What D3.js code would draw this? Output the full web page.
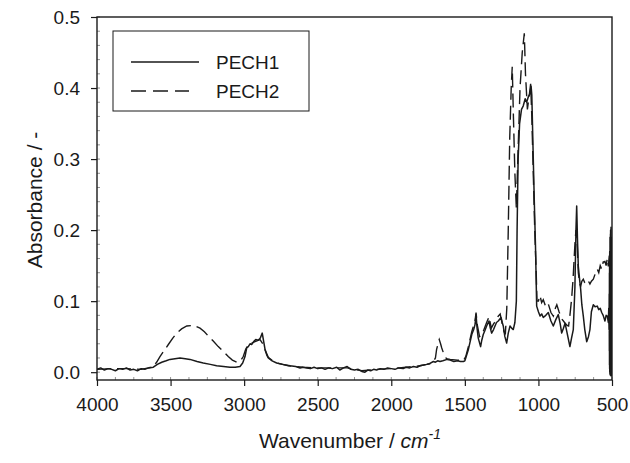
<!DOCTYPE html>
<html>
<head>
<meta charset="utf-8">
<script src="https://d3js.org/d3.v7.min.js"></script>
<style>
  body { margin: 0; background: #fff; }
  svg { display: block; font-family: "Liberation Sans", Arial, sans-serif; }
  .tick-label { font-size: 19px; fill: #1a1a1a; }
  .axis-title { font-size: 21px; fill: #1a1a1a; }
  .legend-text { font-size: 19px; fill: #1a1a1a; }
</style>
</head>
<body>
<div id="chart"></div>
<script>
"use strict";

// series: [wavenumber, absorbance]
let pech1 = [
  [4000, 0.004], [3975, 0.006], [3950, 0.003], [3925, 0.005], [3900, 0.004],
  [3875, 0.002], [3850, 0.005], [3825, 0.004], [3800, 0.006], [3775, 0.003],
  [3750, 0.004], [3725, 0.002], [3700, 0.005], [3675, 0.004], [3650, 0.006],
  [3617, 0.007], [3590, 0.011], [3560, 0.014], [3530, 0.016], [3504, 0.018],
  [3470, 0.019], [3436, 0.020], [3400, 0.019], [3368, 0.018], [3320, 0.015],
  [3278, 0.013], [3230, 0.011], [3187, 0.009], [3140, 0.008], [3096, 0.007],
  [3060, 0.007], [3028, 0.008], [3010, 0.013], [2994, 0.022], [2983, 0.034],
  [2972, 0.036], [2960, 0.040], [2949, 0.039], [2935, 0.043], [2921, 0.046],
  [2904, 0.045], [2890, 0.048], [2877, 0.055], [2868, 0.044], [2858, 0.032],
  [2846, 0.024], [2836, 0.020], [2810, 0.016], [2779, 0.013], [2740, 0.011],
  [2688, 0.009], [2650, 0.008], [2620, 0.006], [2600, 0.007], [2575, 0.006],
  [2550, 0.005], [2525, 0.007], [2500, 0.005], [2475, 0.006], [2450, 0.004],
  [2425, 0.006], [2400, 0.005], [2371, 0.007], [2350, 0.003], [2325, 0.006],
  [2300, 0.008], [2275, 0.004], [2250, 0.003], [2225, 0.004], [2200, 0.001],
  [2179, 0.000], [2160, 0.003], [2140, 0.002], [2120, 0.004], [2100, 0.003],
  [2075, 0.005], [2050, 0.004], [2025, 0.006], [2000, 0.005], [1975, 0.004],
  [1950, 0.006], [1920, 0.005], [1900, 0.007], [1875, 0.006], [1850, 0.008],
  [1825, 0.007], [1805, 0.009], [1780, 0.010], [1759, 0.011], [1740, 0.012],
  [1714, 0.015], [1700, 0.014], [1685, 0.016], [1669, 0.015], [1650, 0.016],
  [1620, 0.018], [1600, 0.017], [1575, 0.015], [1550, 0.016], [1530, 0.015],
  [1510, 0.015], [1500, 0.016], [1494, 0.020], [1476, 0.032], [1453, 0.053],
  [1440, 0.060], [1431, 0.067], [1424, 0.081], [1417, 0.062], [1409, 0.048],
  [1393, 0.036], [1385, 0.045], [1375, 0.053], [1365, 0.058], [1352, 0.065],
  [1336, 0.072], [1327, 0.062], [1318, 0.055], [1305, 0.060], [1295, 0.065],
  [1285, 0.070], [1273, 0.072], [1254, 0.077], [1246, 0.070], [1239, 0.065],
  [1228, 0.050], [1216, 0.041], [1205, 0.055], [1193, 0.065], [1182, 0.062],
  [1171, 0.060], [1160, 0.070], [1150, 0.100], [1145, 0.200], [1138, 0.300],
  [1128, 0.350], [1115, 0.370], [1103, 0.375], [1090, 0.385], [1080, 0.380],
  [1068, 0.388], [1057, 0.392], [1050, 0.403], [1045, 0.390], [1035, 0.300],
  [1028, 0.240], [1020, 0.178], [1012, 0.093], [1000, 0.085], [989, 0.079],
  [978, 0.082], [967, 0.077], [950, 0.080], [933, 0.084], [915, 0.072],
  [899, 0.065], [882, 0.074], [865, 0.081], [852, 0.068], [842, 0.055],
  [830, 0.062], [819, 0.069], [800, 0.050], [786, 0.036], [775, 0.048],
  [763, 0.060], [752, 0.120], [745, 0.200], [740, 0.234], [735, 0.190],
  [729, 0.149], [720, 0.130], [713, 0.117], [705, 0.095], [695, 0.079],
  [685, 0.060], [672, 0.043], [660, 0.050], [650, 0.060], [640, 0.085],
  [627, 0.095], [615, 0.092], [600, 0.093], [590, 0.088], [580, 0.090],
  [570, 0.084], [560, 0.080], [548, 0.072], [540, 0.080], [532, 0.079],
  [525, 0.070], [522, 0.090], [520, 0.060], [519, 0.110], [518, 0.030],
  [517.5, 0.140], [517, 0.010], [516.5, 0.150], [516, 0.005], [515.5, 0.170],
  [515, 0.000], [514.5, 0.160], [514, -0.003], [513.5, 0.190], [513, 0.002],
  [512.5, 0.175], [512, -0.004], [511.5, 0.185], [511, 0.000], [510.5, 0.195],
  [510, -0.004], [509.5, 0.200], [509, 0.003], [508.5, 0.190], [508, -0.005],
  [507.5, 0.180], [507, 0.000], [506.5, 0.204], [506, -0.005], [505.5, 0.170],
  [505, 0.004], [504.5, 0.190], [504, -0.005], [503.5, 0.160], [503, 0.002],
  [502.5, 0.150], [502, -0.004], [501.5, 0.130], [501, 0.010], [500.5, 0.110],
  [500, 0.020]
];

let pech2 = [
  [4000, 0.004], [3900, 0.005], [3800, 0.005], [3700, 0.004], [3650, 0.006],
  [3617, 0.008], [3595, 0.014], [3572, 0.022], [3545, 0.030], [3515, 0.039],
  [3485, 0.048], [3458, 0.055], [3425, 0.061], [3390, 0.065], [3345, 0.066],
  [3300, 0.062], [3270, 0.057], [3244, 0.051], [3210, 0.044], [3176, 0.036],
  [3140, 0.029], [3108, 0.022], [3080, 0.017], [3051, 0.014], [3025, 0.016],
  [3006, 0.022], [2990, 0.032], [2972, 0.039], [2950, 0.041], [2926, 0.043],
  [2892, 0.046], [2870, 0.039], [2855, 0.030], [2836, 0.021], [2800, 0.015],
  [2779, 0.013], [2700, 0.009], [2600, 0.007], [2500, 0.006], [2400, 0.006],
  [2300, 0.006], [2200, 0.002], [2100, 0.004], [2000, 0.005], [1900, 0.007],
  [1805, 0.009], [1760, 0.011], [1720, 0.013], [1700, 0.020], [1692, 0.032],
  [1680, 0.042], [1674, 0.046], [1665, 0.040], [1657, 0.034], [1642, 0.025],
  [1625, 0.019], [1600, 0.018], [1550, 0.017], [1510, 0.016], [1494, 0.022],
  [1476, 0.036], [1453, 0.057], [1431, 0.072], [1424, 0.084], [1415, 0.066],
  [1400, 0.050], [1385, 0.052], [1370, 0.060], [1352, 0.070], [1336, 0.078],
  [1320, 0.062], [1305, 0.068], [1290, 0.072], [1273, 0.079], [1260, 0.082],
  [1248, 0.070], [1235, 0.058], [1225, 0.053], [1215, 0.090], [1205, 0.200],
  [1195, 0.330], [1185, 0.400], [1178, 0.430], [1170, 0.360], [1160, 0.280],
  [1150, 0.230], [1140, 0.300], [1125, 0.400], [1110, 0.450], [1096, 0.477],
  [1088, 0.420], [1075, 0.370], [1062, 0.390], [1053, 0.406], [1045, 0.360],
  [1035, 0.280], [1025, 0.200], [1015, 0.140], [1010, 0.100], [1000, 0.100],
  [990, 0.108], [978, 0.098], [967, 0.102], [950, 0.092], [933, 0.096],
  [915, 0.084], [899, 0.079], [885, 0.090], [875, 0.095], [860, 0.085],
  [842, 0.075], [830, 0.072], [819, 0.069], [805, 0.066], [795, 0.065],
  [786, 0.080], [775, 0.102], [765, 0.130], [752, 0.180], [745, 0.200],
  [738, 0.190], [729, 0.140], [720, 0.125], [713, 0.121], [705, 0.128],
  [695, 0.131], [685, 0.126], [672, 0.124], [660, 0.128], [650, 0.124],
  [640, 0.128], [627, 0.131], [615, 0.138], [600, 0.145], [590, 0.140],
  [580, 0.150], [570, 0.145], [560, 0.155], [548, 0.156], [540, 0.150],
  [532, 0.160], [525, 0.149], [518, 0.165], [510, 0.150], [505, 0.175],
  [500, 0.150]
];

let xTicks = [4000, 3500, 3000, 2500, 2000, 1500, 1000, 500];
let yTicks = [0.0, 0.1, 0.2, 0.3, 0.4, 0.5];
let legendNames = ['PECH1', 'PECH2'];

(function () {
  let width = 630;
  let height = 463;
  let plotLeft = 97;
  let plotRight = 612;
  let plotTop = 17;
  let plotBottom = 380;
  let ink = '#1a1a1a';

  let svg = d3.select('#chart').append('svg')
    .attr('width', width)
    .attr('height', height);

  let xScale = d3.scaleLinear()
    .domain([4000, 500])
    .range([plotLeft, plotRight]);

  let yScale = d3.scaleLinear()
    .domain([-0.011, 0.5])
    .range([plotBottom, plotTop]);

  svg.append('clipPath')
    .attr('id', 'plot-clip')
    .append('rect')
    .attr('x', plotLeft)
    .attr('y', plotTop)
    .attr('width', plotRight - plotLeft)
    .attr('height', plotBottom - plotTop);

  // minor ticks, faint, inside the frame
  let xMinor = d3.range(4000, 499, -125);
  let yMinor = d3.range(0, 0.501, 0.02);

  svg.append('g')
    .selectAll('line.xminor')
    .data(xMinor)
    .enter()
    .append('line')
    .attr('x1', d => xScale(d))
    .attr('x2', d => xScale(d))
    .attr('y1', plotBottom)
    .attr('y2', plotBottom - 3)
    .style('stroke', '#777')
    .style('stroke-width', 0.8);

  svg.append('g')
    .selectAll('line.yminor')
    .data(yMinor)
    .enter()
    .append('line')
    .attr('x1', plotLeft)
    .attr('x2', plotLeft + 3)
    .attr('y1', d => yScale(d))
    .attr('y2', d => yScale(d))
    .style('stroke', '#777')
    .style('stroke-width', 0.8);

  let line = d3.line()
    .x(d => xScale(d[0]))
    .y(d => yScale(d[1]));

  let curves = svg.append('g')
    .attr('clip-path', 'url(#plot-clip)');

  curves.append('path')
    .datum(pech2)
    .attr('d', line)
    .style('fill', 'none')
    .style('stroke', ink)
    .style('stroke-width', 1.4)
    .style('stroke-dasharray', '14,6');

  curves.append('path')
    .datum(pech1)
    .attr('d', line)
    .style('fill', 'none')
    .style('stroke', ink)
    .style('stroke-width', 1.5)
    .style('stroke-linejoin', 'round');

  // frame
  svg.append('rect')
    .attr('x', plotLeft)
    .attr('y', plotTop)
    .attr('width', plotRight - plotLeft)
    .attr('height', plotBottom - plotTop)
    .style('fill', 'none')
    .style('stroke', ink)
    .style('stroke-width', 1.4);

  let xAxis = d3.axisBottom(xScale)
    .tickValues(xTicks)
    .tickSize(6)
    .tickPadding(12)
    .tickFormat(d3.format('d'));

  let yAxis = d3.axisLeft(yScale)
    .tickValues(yTicks)
    .tickSize(6)
    .tickPadding(11)
    .tickFormat(d3.format('.1f'));

  let gx = svg.append('g')
    .attr('transform', 'translate(0,' + plotBottom + ')')
    .call(xAxis);

  let gy = svg.append('g')
    .attr('transform', 'translate(' + plotLeft + ',0)')
    .call(yAxis);

  [gx, gy].forEach(function (g) {
    g.select('.domain').remove();
    g.selectAll('line').style('stroke', ink).style('stroke-width', 1.2);
    g.selectAll('text')
      .attr('class', 'tick-label')
      .style('font-family', '"Liberation Sans", Arial, sans-serif');
  });

  // axis titles
  let xTitle = svg.append('text')
    .attr('class', 'axis-title')
    .attr('x', 350)
    .attr('y', 448)
    .attr('text-anchor', 'middle');
  xTitle.append('tspan').text('Wavenumber / ');
  xTitle.append('tspan').style('font-style', 'italic').text('cm');
  xTitle.append('tspan')
    .style('font-style', 'italic')
    .style('font-size', '14px')
    .attr('dy', -9)
    .text('-1');

  svg.append('text')
    .attr('class', 'axis-title')
    .attr('transform', 'translate(42,' + 200 + ') rotate(-90)')
    .attr('text-anchor', 'middle')
    .text('Absorbance / -');

  // legend
  let legend = svg.append('g');
  legend.append('rect')
    .attr('x', 113)
    .attr('y', 31)
    .attr('width', 196)
    .attr('height', 80)
    .style('fill', '#fff')
    .style('stroke', ink)
    .style('stroke-width', 1);

  let legendRows = legend.selectAll('g.row')
    .data(legendNames)
    .enter()
    .append('g')
    .attr('transform', (d, i) => 'translate(0,' + (62 + i * 29) + ')');

  legendRows.append('line')
    .attr('x1', 131)
    .attr('x2', (d, i) => i === 0 ? 199 : 189)
    .attr('y1', 0)
    .attr('y2', 0)
    .style('stroke', ink)
    .style('stroke-width', 1.3)
    .style('stroke-dasharray', (d, i) => i === 0 ? null : '15,7');

  legendRows.append('text')
    .attr('class', 'legend-text')
    .attr('x', 216)
    .attr('y', 7)
    .text(d => d);
})();
</script>
</body>
</html>
